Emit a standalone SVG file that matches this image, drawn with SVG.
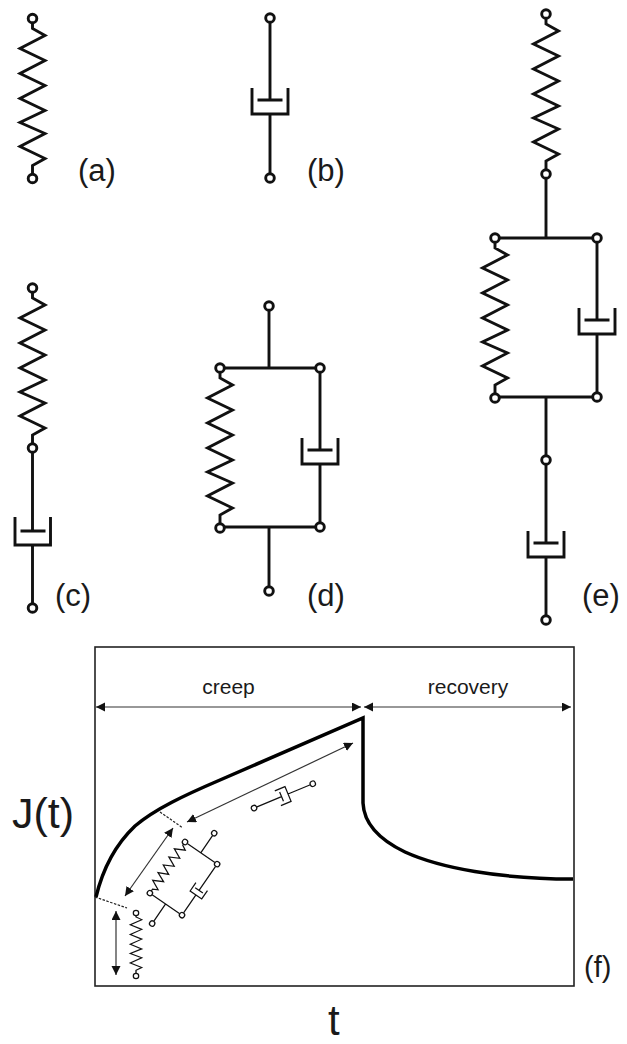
<svg xmlns="http://www.w3.org/2000/svg" width="627" height="1044" viewBox="0 0 627 1044">
<style>
text{font-family:"Liberation Sans",Arial,sans-serif;fill:#1a1a1a}
.lab{font-size:31px}
.dim{font-size:21px}
.big{fill:none;stroke:#111;stroke-width:2.9px;stroke-linejoin:miter}
.thin{fill:none;stroke:#333;stroke-width:1.2px}
.dash{fill:none;stroke:#222;stroke-width:1.2px;stroke-dasharray:2.5 1.5}
.node{fill:#fff}
.mini{fill:none;stroke:#111;stroke-width:1.25px}
</style>
<defs>
<marker id="ah" markerUnits="userSpaceOnUse" markerWidth="10" markerHeight="10" refX="9" refY="4.5" orient="auto-start-reverse"><path d="M0 0L9 4.5L0 9Z" fill="#111"/></marker>
<path id="coil" d="M0 4.5V10L12.500 17L-12.500 30L12.500 42L-12.500 55L12.500 67L-12.500 80L12.500 92L-12.500 104L12.500 115L-12.500 128L12.500 140L0 147V155.500"/>
<g id="spring">
<use href="#coil"/>
<circle class="node" cy="0" r="4.3"/><circle class="node" cy="160" r="4.3"/>
</g>
</defs>
<rect width="627" height="1044" fill="#fff"/>
<g id="a" class="big"><use href="#spring" x="32.500" y="18.500"/></g>
<text class="lab" x="78" y="181">(a)</text>
<g id="b" class="big"><path d="M270 22V100M270 114V174M252 88V114H288V88M257.500 100H282.500"/><circle class="node" cx="270" cy="18" r="4.300"/><circle class="node" cx="270" cy="178" r="4.300"/></g>
<text class="lab" x="307" y="181">(b)</text>
<g id="c" class="big"><use href="#spring" x="32.500" y="288"/><path d="M32.500 453V531M32.500 545V604M15 517V545H50.500V517M20.500 531H45.500"/><circle class="node" cx="32.500" cy="608" r="4.300"/></g>
<text class="lab" x="55" y="606">(c)</text>
<g id="d" class="big"><path d="M269 310V368M224 368H316M320 372V450M320 464V523M302 438V464H338V438M307.500 450H332.500M224 527H316M269 527V587"/><use href="#spring" x="220" y="368"/><circle class="node" cx="269" cy="306" r="4.300"/><circle class="node" cx="320" cy="368" r="4.300"/><circle class="node" cx="320" cy="527" r="4.300"/><circle class="node" cx="269" cy="591" r="4.300"/></g>
<text class="lab" x="307" y="606">(d)</text>
<g id="e" class="big"><use href="#spring" x="546" y="14"/><path d="M546 179V238M499 238H593M597 242V320M597 334V393M579 308V334H615V308M584.500 320H609.500M499 397H593M546 397V456M546 464V543M546 557V616M528 531V557H564V531M533.500 543H558.500"/><use href="#spring" x="495" y="238"/><circle class="node" cx="597" cy="238" r="4.300"/><circle class="node" cx="597" cy="397" r="4.300"/><circle class="node" cx="546" cy="460" r="4.300"/><circle class="node" cx="546" cy="620" r="4.300"/></g>
<text class="lab" x="582" y="606">(e)</text>
<g id="f">
<rect x="95" y="647" width="479" height="339" fill="none" stroke="#222" stroke-width="1.6"/>
<path d="M96 897C103 868 115 845 135 826C155 809 185 795 220 780L363 718V803C364 825 380 840 405 852C440 868 500 879 573 879" fill="none" stroke="#000" stroke-width="3.5"/>
<text class="dim" x="228.500" y="694" text-anchor="middle">creep</text>
<text class="dim" x="468" y="694" text-anchor="middle">recovery</text>
<text x="584" y="977" style="font-size:29px">(f)</text>
<text x="12" y="828" style="font-size:43px">J(t)</text>
<text x="328" y="1035" style="font-size:42px">t</text>
</g>
<g id="mini-spring" class="mini">
<use href="#coil" transform="translate(136 913) scale(.46 .39)" style="stroke-width:2.9px"/>
<circle class="node" cx="136" cy="913" r="2.700"/><circle class="node" cx="136" cy="976" r="2.700"/>
</g>
<g id="mini-kelvin" style="fill:none;stroke:#111;stroke-width:3.2px" transform="translate(185 842) rotate(34.5) scale(.39)">
<use href="#coil"/>
<path d="M7 0H93M100 7V82M100 96V152M82 70V96H118V70M88 82H112M7 159H93M49 0V-54M49 159V213"/>
<circle class="node" r="6.800"/><circle class="node" cy="159" r="6.800"/><circle class="node" cx="100" r="6.800"/><circle class="node" cx="100" cy="159" r="6.800"/><circle class="node" cx="49" cy="-61" r="6.800"/><circle class="node" cx="49" cy="220" r="6.800"/>
</g>
<g id="mini-dashpot" class="mini" transform="translate(283.400 795.900) rotate(-22.5)">
<path d="M-29.200 0H-2M5 0H29.200M-6 -8H5V8H-6M-2 -5V5"/>
<circle class="node" cx="-31.800" r="2.700"/><circle class="node" cx="31.800" r="2.700"/>
</g>
<g id="connectors">
<path class="thin" d="M96 707H361" marker-start="url(#ah)" marker-end="url(#ah)"/>
<path class="thin" d="M364 707H571" marker-start="url(#ah)" marker-end="url(#ah)"/>
<path class="thin" d="M187 822L353 743" marker-start="url(#ah)" marker-end="url(#ah)"/>
<path class="thin" d="M125 896L173 828" marker-start="url(#ah)" marker-end="url(#ah)"/>
<path class="thin" d="M116 911V975" marker-start="url(#ah)" marker-end="url(#ah)"/>
<path class="dash" d="M160 812L183 828"/>
<path class="dash" d="M95 897L127 908"/>
</g>
</svg>
